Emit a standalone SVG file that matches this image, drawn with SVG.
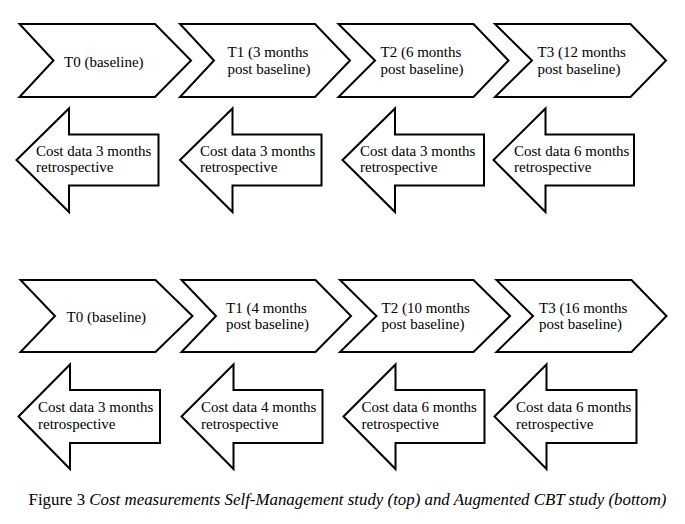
<svg xmlns="http://www.w3.org/2000/svg" width="685" height="524" viewBox="0 0 685 524">
<style>
.s{fill:#fff;stroke:#000;stroke-width:2;stroke-linejoin:miter}
.t{font-family:"Liberation Serif","Times New Roman",serif;font-size:15px;fill:#000}
.c{font-family:"Liberation Serif","Times New Roman",serif;font-size:16px;fill:#000}
</style>
<rect width="685" height="524" fill="#fff"/>
<g id="top-t0"><polygon class="s" points="19.5,24 155,24 191,60.5 155,97 19.5,97 53.5,60.5"/><text class="t" x="64" y="67">T0 (baseline)</text></g>
<g id="top-t1"><polygon class="s" points="180,24 315,24 350,60.5 315,97 180,97 214,60.5"/><text class="t" x="227.5" y="57">T1 (3 months</text><text class="t" x="227.5" y="73.5">post baseline)</text></g>
<g id="top-t2"><polygon class="s" points="338.5,24 473.5,24 508.5,60.5 473.5,97 338.5,97 375,60.5"/><text class="t" x="380.5" y="57">T2 (6 months</text><text class="t" x="380.5" y="73.5">post baseline)</text></g>
<g id="top-t3"><polygon class="s" points="495,24 630.5,24 666,60.5 630.5,97 495,97 532,60.5"/><text class="t" x="537.5" y="57">T3 (12 months</text><text class="t" x="537.5" y="73.5">post baseline)</text></g>
<g id="top-c0"><polygon class="s" points="16.5,160 69,108.5 69,134.5 158.5,134.5 158.5,185.5 69,185.5 69,212"/><text class="t" x="36" y="155.5">Cost data 3 months</text><text class="t" x="36" y="172">retrospective</text></g>
<g id="top-c1"><polygon class="s" points="180,160 232.5,108.5 232.5,134.5 321.5,134.5 321.5,185.5 232.5,185.5 232.5,212"/><text class="t" x="200" y="155.5">Cost data 3 months</text><text class="t" x="200" y="172">retrospective</text></g>
<g id="top-c2"><polygon class="s" points="342.5,160 395,108.5 395,134.5 484,134.5 484,185.5 395,185.5 395,212"/><text class="t" x="360" y="155.5">Cost data 3 months</text><text class="t" x="360" y="172">retrospective</text></g>
<g id="top-c3"><polygon class="s" points="493.5,160 545.5,108.5 545.5,134.5 634,134.5 634,185.5 545.5,185.5 545.5,212"/><text class="t" x="514" y="155.5">Cost data 6 months</text><text class="t" x="514" y="172">retrospective</text></g>
<g id="bot-t0"><polygon class="s" points="20.5,280 155.5,280 192.5,316 155.5,352 20.5,352 55,316"/><text class="t" x="66.5" y="321.5">T0 (baseline)</text></g>
<g id="bot-t1"><polygon class="s" points="181.5,280 315.5,280 351,316 315.5,352 181.5,352 216,316"/><text class="t" x="226" y="312.5">T1 (4 months</text><text class="t" x="226" y="329">post baseline)</text></g>
<g id="bot-t2"><polygon class="s" points="340,280 473.5,280 510,316 473.5,352 340,352 376.5,316"/><text class="t" x="381.5" y="312.5">T2 (10 months</text><text class="t" x="381.5" y="329">post baseline)</text></g>
<g id="bot-t3"><polygon class="s" points="496.5,280 631.5,280 666.5,316 631.5,352 496.5,352 533,316"/><text class="t" x="539" y="312.5">T3 (16 months</text><text class="t" x="539" y="329">post baseline)</text></g>
<g id="bot-c0"><polygon class="s" points="18.5,416.5 70,364.5 70,390 160,390 160,443 70,443 70,469"/><text class="t" x="38" y="412">Cost data 3 months</text><text class="t" x="38" y="429">retrospective</text></g>
<g id="bot-c1"><polygon class="s" points="181.5,416.5 233.5,364.5 233.5,390 322.5,390 322.5,443 233.5,443 233.5,469"/><text class="t" x="201" y="412">Cost data 4 months</text><text class="t" x="201" y="429">retrospective</text></g>
<g id="bot-c2"><polygon class="s" points="343.5,416.5 395.5,364.5 395.5,390 484.5,390 484.5,443 395.5,443 395.5,469"/><text class="t" x="361.5" y="412">Cost data 6 months</text><text class="t" x="361.5" y="429">retrospective</text></g>
<g id="bot-c3"><polygon class="s" points="494.5,416.5 546.5,364.5 546.5,390 636.5,390 636.5,443 546.5,443 546.5,469"/><text class="t" x="516" y="412">Cost data 6 months</text><text class="t" x="516" y="429">retrospective</text></g>
<g id="caption"><text class="c" x="28.5" y="504.5" textLength="638" lengthAdjust="spacingAndGlyphs">Figure 3 <tspan font-style="italic">Cost measurements Self-Management study (top) and Augmented CBT study (bottom)</tspan></text></g>
</svg>
